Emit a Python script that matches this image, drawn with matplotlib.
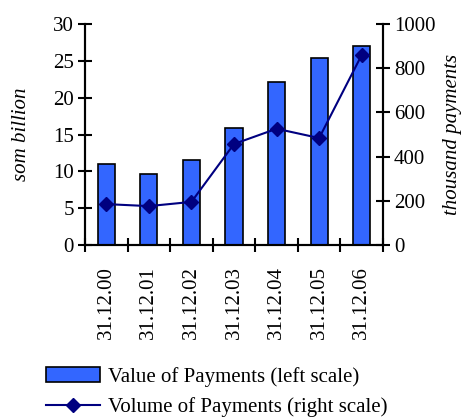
import matplotlib
matplotlib.use("Agg")
import matplotlib.pyplot as plt
import numpy as np

dates = ["31.12.00", "31.12.01", "31.12.02", "31.12.03", "31.12.04", "31.12.05", "31.12.06"]
value_bn = [11.0, 9.7, 11.6, 15.9, 22.1, 25.4, 27.0]
volume_k = [185, 176, 195, 457, 526, 484, 860]

plt.rcParams["font.family"] = ["Liberation Serif", "DejaVu Serif"]
plt.rcParams["font.size"] = 15

fig = plt.figure(figsize=(4.64, 4.19), dpi=100)
ax = fig.add_axes([85 / 464, 1 - 245 / 419, (383 - 85) / 464, (245 - 24) / 419])
ax2 = ax.twinx()

x = np.arange(len(dates))
bars = ax.bar(x, value_bn, width=0.4, color="#3366FF", edgecolor="black", linewidth=1.2,
              label="Value of Payments (left scale)", zorder=2)
line, = ax2.plot(x, volume_k, color="#000080", marker="D", markersize=7.5, linewidth=1.5,
                 label="Volume of Payments (right scale)")

ax.set_xlim(-0.5, len(dates) - 0.5)
ax.set_ylim(0, 30)
ax.set_yticks(range(0, 31, 5))
ax2.set_ylim(0, 1000)
ax2.set_yticks(range(0, 1001, 200))

ax.set_xticks(x)
ax.set_xticklabels(dates, rotation=90)
ax.set_xticks(np.arange(-0.5, len(dates), 1.0), minor=True)
ax.tick_params(axis="x", which="major", length=0, pad=15)
ax.tick_params(axis="x", which="minor", length=10, width=1.5, direction="inout")
ax.tick_params(axis="y", length=10, width=1.5, direction="inout", pad=3)
ax2.tick_params(axis="y", length=10, width=1.5, direction="inout", pad=3)

for a in (ax, ax2):
    a.spines["top"].set_visible(False)
    for s in ("left", "right", "bottom"):
        a.spines[s].set_linewidth(1.5)

ax.set_ylabel("som billion", style="italic", labelpad=16)
ax2.set_ylabel("thousand payments", style="italic", labelpad=5)

fig.legend([bars, line], [bars.get_label(), line.get_label()],
           loc="upper left", bbox_to_anchor=(46 / 464, 1 - 367 / 419),
           frameon=False, handlelength=2.6, handleheight=0.72, handletextpad=0.4,
           labelspacing=0.5, borderaxespad=0, borderpad=0)

fig.savefig("out.png", dpi=100)
